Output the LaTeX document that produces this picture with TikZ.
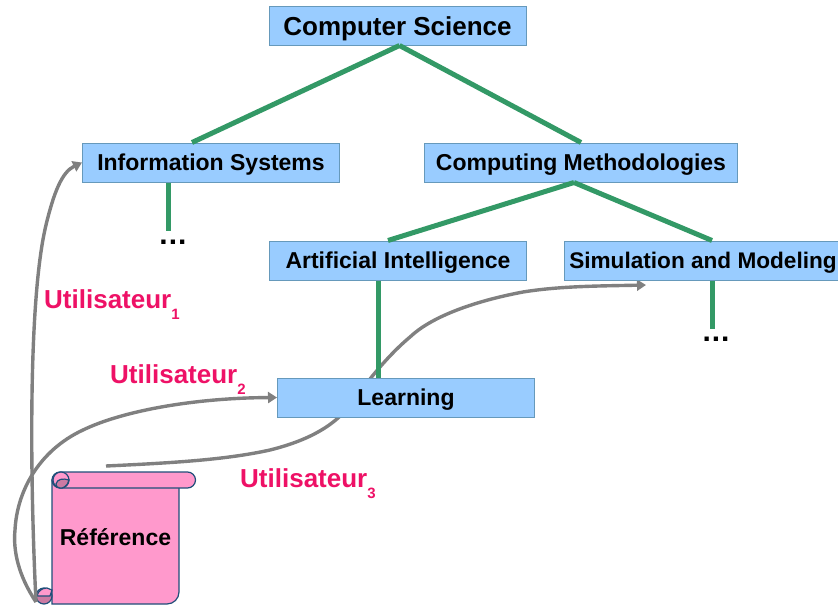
\documentclass[tikz,border=0pt]{standalone}
\usepackage{fontspec}
\setmainfont{Liberation Sans}
\usetikzlibrary{arrows.meta}
\definecolor{boxblue}{HTML}{99CCFF}
\definecolor{boxedge}{HTML}{6699BB}
\definecolor{linkgreen}{HTML}{339966}
\definecolor{usergray}{HTML}{808080}
\definecolor{userpink}{HTML}{EE1166}
\definecolor{scrollpink}{HTML}{FF99CC}
\definecolor{scrolldark}{HTML}{CC7AA3}
\definecolor{scrolledge}{HTML}{1F4E79}
\tikzset{>={Triangle[length=9pt,width=11pt]}}
\tikzset{
  topic/.style={draw=boxedge,fill=boxblue,line width=1pt,minimum width=257pt,minimum height=39pt,inner sep=0,text height=20pt,text depth=5pt,font=\fontsize{23}{26}\selectfont\bfseries},
  link/.style={draw=linkgreen,line width=5pt},
  userpath/.style={draw=usergray,line width=3.4pt,->},
  userlabel/.style={text=userpink,anchor=base west,inner sep=0,font=\fontsize{26}{30}\selectfont\bfseries},
  more/.style={inner sep=0,font=\fontsize{30}{30}\selectfont\bfseries},
  scrollpart/.style={draw=scrolledge,line width=1.2pt}
}

\begin{document}
\begin{tikzpicture}[x=1pt,y=-1pt]
      \useasboundingbox (0,0) rectangle (838,605);

      \coordinate (u3start) at (106,466);
      \coordinate (u3end) at (646,285);
      \draw[userpath] (u3start) .. controls (170,463) and (225,460) .. (270,450)
        .. controls (310,440) and (335,425) .. (350,405)
        .. controls (365,385) and (385,358) .. (410,337)
        .. controls (430,318) and (470,302) .. (523,292)
        .. controls (560,286) and (600,286) .. (u3end);

      \node[topic,text height=24pt,font=\fontsize{26}{30}\selectfont\bfseries](cs) at (397.5,25.5) {Computer Science};
      \node[topic](info) at (211,162.5) {Information Systems};
      \node[topic,minimum width=313pt](comp) at (581,162.5) {Computing Methodologies};
      \node[topic](ai) at (398,260.5) {Artificial Intelligence};
      \node[topic,minimum width=278pt,font=\fontsize{22.6}{26}\selectfont\bfseries](sim) at (703,260.5) {Simulation and Modeling};
      \node[topic](learn) at (406,397.5) {Learning};

      \node[more](dots1) at (173,242) {.\kern1pt.\kern1pt.};
      \node[more](dots2) at (716,339) {.\kern1pt.\kern1pt.};

      \draw[link] (cs.south) ++(2,0) coordinate (csroot) -- ([xshift=-19pt]info.north);
      \draw[link] (csroot) -- (comp.north);
      \draw[link] ([xshift=-7pt]comp.south) coordinate (comproot) -- ([xshift=-10pt]ai.north);
      \draw[link] (comproot) -- ([xshift=9pt]sim.north);
      \draw[link] ([xshift=-43pt]info.south) -- ([xshift=-43pt,yshift=-48pt]info.south);
      \draw[link] ([xshift=9pt]sim.south) -- ([xshift=9pt,yshift=-48pt]sim.south);
      \draw[link] ([xshift=-20pt]ai.south) -- ([xshift=-28pt]learn.north);

      \foreach \n/\x/\y in {1/44/308, 2/110/383, 3/240/487} {
        \node[userlabel](user\n) at (\x,\y) {Utilisateur\raisebox{-11pt}{\fontsize{15}{15}\selectfont\n}};
      }

      \path[scrollpart,fill=scrollpink,rounded corners=12pt] (52,480) [sharp corners] -- (52,604) [rounded corners=12pt] -- (179,604) [sharp corners] -- (179,480) -- cycle;
      \path[scrollpart,fill=scrollpink,rounded corners=8pt] (52,472) rectangle (195.5,488);
      \draw[scrollpart,fill=scrollpink] (61,480) circle[radius=8];
      \draw[scrollpart,fill=scrolldark] (56,484) .. controls (57,479) and (63,478) .. (69,480) .. controls (68,486) and (62,489) .. (60,488) .. controls (57,488) and (56,486) .. (56,484) -- cycle;
      \draw[scrollpart,fill=scrolldark] (44,596) circle[radius=8];
      \draw[scrollpart,fill=scrollpink] (37,596) -- (50,596) -- (52,590) -- (47,588) .. controls (42,588) and (38,591) .. (37,596) -- cycle;
      \node[inner sep=0,font=\fontsize{23}{26}\selectfont\bfseries](ref) at (115.5,537) {Référence};

      \coordinate (hook1) at (36,602);
      \draw[userpath] (hook1) .. controls (30,480) and (28,300) .. (46,225)
        .. controls (54,192) and (62,172) .. (info.west);
      \draw[userpath] (hook1) .. controls (18,575) and (13,550) .. (15,530)
        .. controls (17,490) and (40,450) .. (83,430)
        .. controls (120,412) and (190,398) .. (learn.west);
    \end{tikzpicture}
\end{document}
